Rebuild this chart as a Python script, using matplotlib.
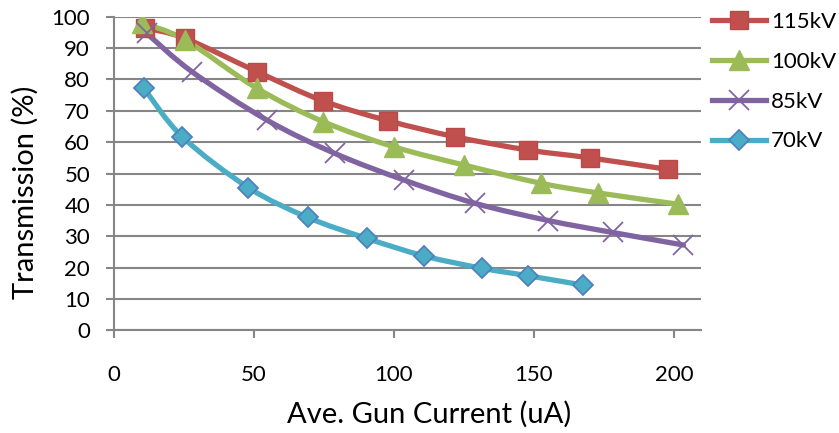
import numpy as np
import matplotlib.pyplot as plt
from matplotlib.path import Path
from matplotlib.patches import PathPatch

# measured transmission vs gun current for each accelerating voltage
current_115 = [11.2, 25.5, 51.1, 74.6, 98.1, 122.0, 147.9, 169.9, 197.9]
trans_115 = [96.4, 93.1, 82.5, 73.2, 66.8, 61.7, 57.5, 55.0, 51.3]

current_100 = [10.0, 25.5, 51.1, 74.9, 100.1, 125.1, 152.5, 173.0, 201.6]
trans_100 = [98.1, 92.6, 77.2, 66.5, 58.5, 52.7, 46.9, 43.8, 40.2]

current_85 = [11.8, 27.9, 54.6, 79.0, 103.7, 129.0, 155.2, 178.1, 203.4]
trans_85 = [94.7, 82.5, 67.1, 56.4, 47.9, 40.5, 35.0, 31.2, 27.2]

current_70 = [10.8, 24.5, 48.1, 69.3, 90.4, 110.9, 131.4, 147.9, 167.7]
trans_70 = [77.2, 61.7, 45.5, 36.0, 29.3, 23.7, 19.8, 17.4, 14.4]

labels = ['115kV', '100kV', '85kV', '70kV']

plt.rcParams['font.family'] = ['Lato', 'DejaVu Sans']

fig = plt.figure(figsize=(8.39, 4.33), dpi=100)
ax = fig.add_axes([0.1355, 0.2372, 0.6997, 0.7242])


def smooth_path(ax, xs, ys, color, lw):
    # smoothed line: cubic Bezier through every point
    pts = ax.transData.transform(np.column_stack([xs, ys]))
    n = len(pts)
    verts = [pts[0]]
    codes = [Path.MOVETO]
    for i in range(n - 1):
        p0 = pts[i - 1] if i > 0 else pts[i]
        p1 = pts[i]
        p2 = pts[i + 1]
        p3 = pts[i + 2] if i + 2 < n else pts[i + 1]
        c1 = p1 + (p2 - p0) / 6.0
        c2 = p2 - (p3 - p1) / 6.0
        verts += [c1, c2, p2]
        codes += [Path.CURVE4] * 3
    patch = PathPatch(Path(verts, codes), facecolor='none', edgecolor=color,
                      lw=lw, transform=None, capstyle='round', joinstyle='round', zorder=3)
    ax.add_artist(patch)


ax.set_xlim(0, 209.6)
ax.set_ylim(0, 100)

series = [
    (current_115, trans_115, '#C0504D', dict(marker='s', ms=13, mfc='#C0504D', mec='#B84B48', mew=1)),
    (current_100, trans_100, '#9BBB59', dict(marker='^', ms=15, mfc='#9BBB59', mec='#9BBB59', mew=1)),
    (current_85, trans_85, '#8064A2', dict(marker='x', ms=14, mec='#8064A2', mew=1.3)),
    (current_70, trans_70, '#4BACC6', dict(marker='D', ms=10, mfc='#4BACC6', mec='#4F81BD', mew=1.3)),
]

lw = 3.8
for (xs, ys, col, mk), lab in zip(series, labels):
    smooth_path(ax, xs, ys, col, lw)
    ax.plot(xs, ys, ls='none', zorder=4, **mk)
    # legend entry: straight line with marker
    ax.plot([], [], color=col, lw=lw, label=lab, **mk)

ax.set_xticks([0, 50, 100, 150, 200])
ax.set_yticks(range(0, 101, 10))
ax.grid(axis='y', color='#868686', lw=1.5)
ax.set_axisbelow(True)
for s in ['top', 'right']:
    ax.spines[s].set_visible(False)
for s in ['left', 'bottom']:
    ax.spines[s].set_color('#868686')
    ax.spines[s].set_linewidth(1.5)
ax.tick_params(axis='y', length=6, width=1.5, color='#868686', pad=11, labelsize=16)
ax.tick_params(axis='x', length=6, width=1.5, color='#868686', pad=19, labelsize=16)

ax.set_xlabel('Ave. Gun Current (uA)', fontsize=21)
ax.set_ylabel('Transmission (%)', fontsize=21)
ax.xaxis.set_label_coords(0.537, -0.2254)
ax.yaxis.set_label_coords(-0.128, 0.44)

leg = fig.legend(loc='upper left', bbox_to_anchor=(0.8486, 0.972), frameon=False,
                 fontsize=16, handlelength=2.43, handletextpad=0.22, labelspacing=0.89,
                 borderpad=0, borderaxespad=0)

fig.savefig('out.png', dpi=100)
